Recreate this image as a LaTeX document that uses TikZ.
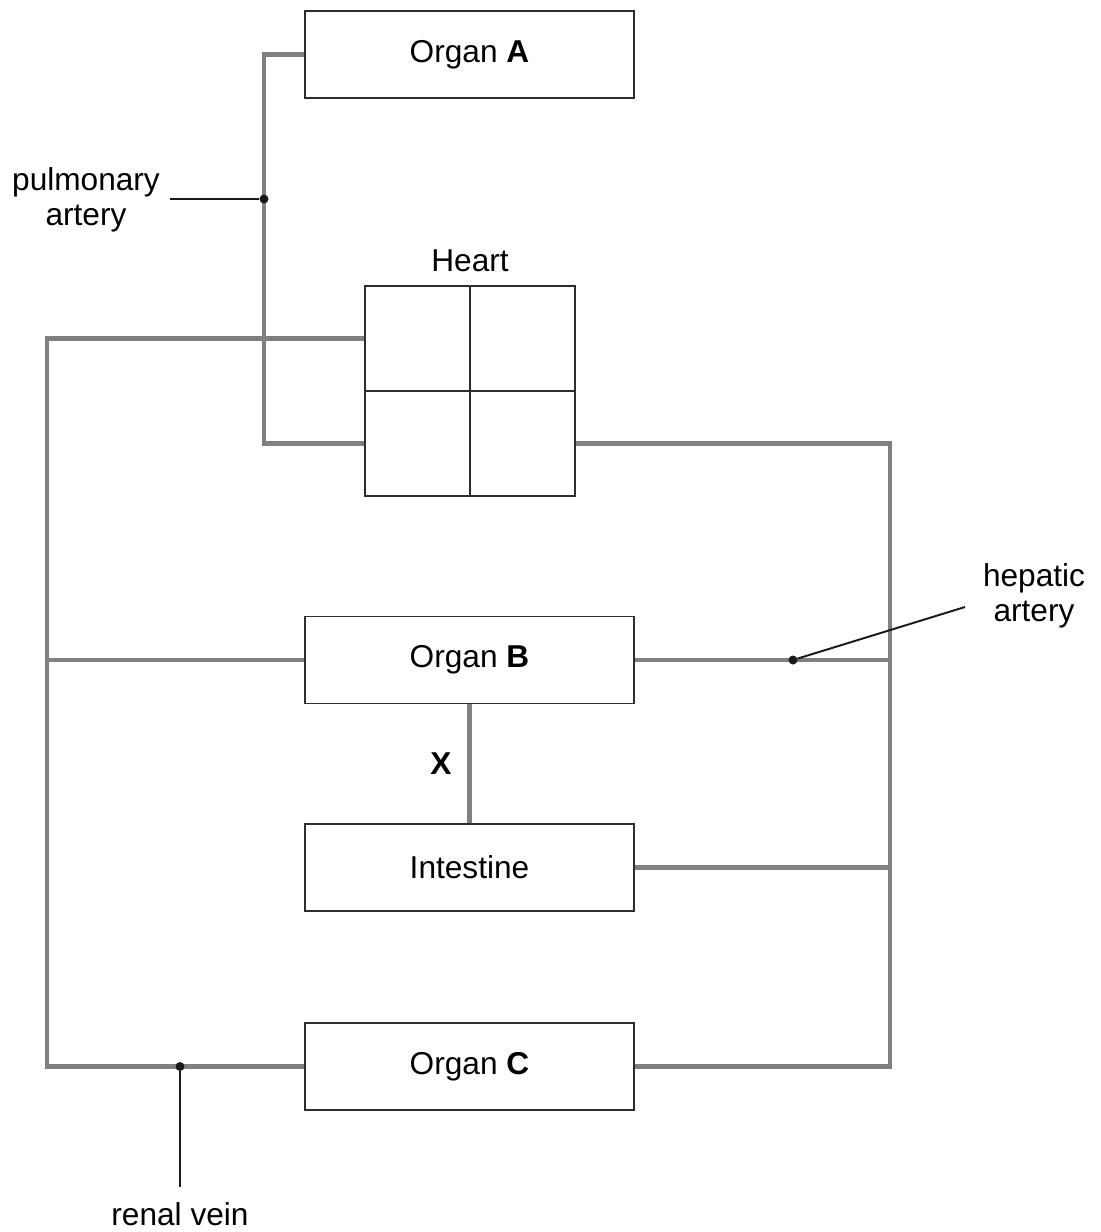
\documentclass[tikz,border=0pt]{standalone}
\usepackage{fontspec}
\setmainfont{Liberation Sans}
\usetikzlibrary{calc}

\definecolor{vesselgrey}{RGB}{128,128,130}
\definecolor{boxline}{RGB}{45,45,45}

\tikzset{
    organ/.style={draw=boxline,line width=0.85pt,minimum width=6.58cm,minimum height=1.74cm,inner sep=0pt,font=\fontsize{18}{20}\selectfont},
    chamber/.style={draw=boxline,line width=0.85pt,minimum size=2.1cm,inner sep=0pt},
    vessel/.style={draw=vesselgrey,line width=2.3pt},
    pointer/.style={draw=black!90,line width=1.1pt},
    junction/.style={circle,fill=black!90,inner sep=0pt,minimum size=0.18cm},
    lbl/.style={font=\fontsize{18}{20}\selectfont,align=center,inner sep=0pt}
}

\begin{document}
\begin{tikzpicture}[x=0.02cm,y=-0.02cm]
    \useasboundingbox (0,0) rectangle (1101,1232);
    % organs
    \node[organ] (orgA) at (469.5,54.5) {Organ \textbf{A}};
    \node[organ] (orgB) at (469.5,660) {Organ \textbf{B}};
    \node[organ] (gut) at (469.5,867.5) {Intestine};
    \node[organ] (orgC) at (469.5,1066.5) {Organ \textbf{C}};
    % heart, four chambers
    \node[chamber] (ra) at (417.5,338.5) {};
    \node[chamber] (rv) at (417.5,443.5) {};
    \node[chamber] (la) at (522.5,338.5) {};
    \node[chamber] (lv) at (522.5,443.5) {};
    \node[lbl] (heart) at (470,261) {Heart};
    % junctions on the vessels
    \coordinate (pa) at (264,199);
    \coordinate (vc) at (47,660);
    \coordinate (ao) at (890,660);
    \coordinate (ha) at (793,660);
    \coordinate (rn) at (180,1066.5);
    % vessels
    \draw[vessel] (orgA.west) -- (orgA.west -| pa) -- (rv.west -| pa) -- (rv.west);
    \draw[vessel] (ra.west) -- (ra.west -| vc) -- (orgC.west -| vc) -- (orgC.west);
    \draw[vessel] (orgB.west) -- (orgB.west -| vc);
    \draw[vessel] (lv.east) -- (lv.east -| ao) -- (orgC.east -| ao) -- (orgC.east);
    \draw[vessel] (orgB.east) -- (orgB.east -| ao);
    \draw[vessel] (gut.east) -- (gut.east -| ao);
    \draw[vessel] (orgB.south) -- (gut.north);
    \node[lbl] (xlbl) at (441,764) {\textbf{X}};
    % labels with pointers
    \node[junction] (paDot) at (pa) {};
    \node[lbl] (paLbl) at (86,200) {pulmonary\\artery};
    \coordinate (paEnd) at (170,199);
    \draw[pointer] (paEnd) -- (paDot);
    \node[junction] (haDot) at (ha) {};
    \node[lbl] (haLbl) at (1034,596) {hepatic\\artery};
    \coordinate (haEnd) at (965,607);
    \draw[pointer] (haEnd) -- (haDot);
    \node[junction] (rnDot) at (rn) {};
    \node[lbl] (rnLbl) at (180,1214) {renal vein};
    \coordinate (rnEnd) at (180,1187);
    \draw[pointer] (rnDot) -- (rnEnd);
\end{tikzpicture}
\end{document}
